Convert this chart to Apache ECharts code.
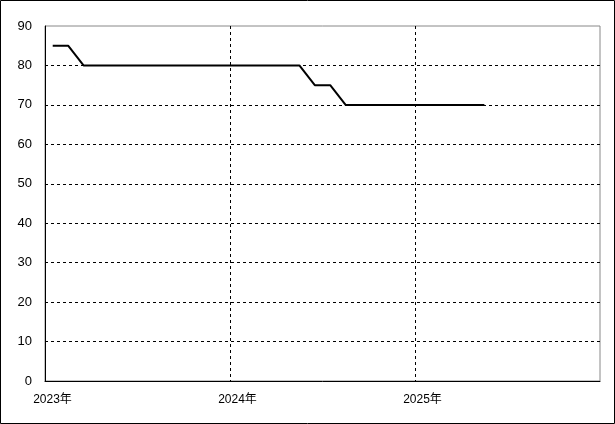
<!DOCTYPE html>
<html><head><meta charset="utf-8">
<script src="https://cdn.jsdelivr.net/npm/echarts@6/dist/echarts.min.js"></script>
<style>html,body{margin:0;padding:0;background:#fff}#c{width:615px;height:424px}</style>
</head><body><div id="c"></div>
<script>
// Monthly values (mid-month points), starting 2023-01
const months = ['2023-01','2023-02','2023-03','2023-04','2023-05','2023-06','2023-07','2023-08','2023-09','2023-10','2023-11','2023-12',
  '2024-01','2024-02','2024-03','2024-04','2024-05','2024-06','2024-07','2024-08','2024-09','2024-10','2024-11','2024-12',
  '2025-01','2025-02','2025-03','2025-04','2025-05'];
const values = [85,85,80,80,80,80,80,80,80,80,80,80,
  80,80,80,80,80,75,75,70,70,70,70,70,
  70,70,70,70,70];
const yearTicks = ['2023年','2024年','2025年','2026年'];
const startYear = 2023;

const data = months.map((m, i) => {
  const [y, mo] = m.split('-').map(Number);
  return [(y - startYear) * 12 + (mo - 1) + 0.5, values[i]];
});

const chart = echarts.init(document.getElementById('c'));
const font = "'Liberation Sans', 'Noto Sans CJK JP', sans-serif";
chart.setOption({
  animation: false,
  grid: { left: 45, top: 26, right: 15, bottom: 43, show: true, borderColor: '#888', borderWidth: 1 },
  xAxis: {
    type: 'value', min: 0, max: 36, interval: 12,
    axisLine: { show: true, lineStyle: { color: '#000', width: 1 } },
    axisTick: { show: false },
    axisLabel: { color: '#000', fontSize: 12, fontFamily: font, margin: 13, padding: [0,0,0,15],
      formatter: v => yearTicks[Math.round(v / 12)], showMaxLabel: false },
    splitLine: { show: true, showMinLine: false, showMaxLine: false, lineStyle: { color: '#000', type: [3,3], width: 1 } }
  },
  yAxis: {
    type: 'value', min: 0, max: 90, interval: 10,
    axisLine: { show: true, lineStyle: { color: '#000', width: 1 } },
    axisTick: { show: false },
    axisLabel: { color: '#000', fontSize: 13, fontFamily: font, margin: 13 },
    splitLine: { show: true, showMinLine: false, showMaxLine: false, lineStyle: { color: '#000', type: [3,3], width: 1 } }
  },
  series: [{
    type: 'line', data: data, showSymbol: false, symbol: 'none',
    lineStyle: { color: '#000', width: 2 }
  }],
  graphic: [{ type: 'rect', shape: { x: 0.5, y: 0.5, width: 614, height: 423 }, style: { fill: null, stroke: '#000', lineWidth: 1 }, silent: true }]
});
</script></body></html>
